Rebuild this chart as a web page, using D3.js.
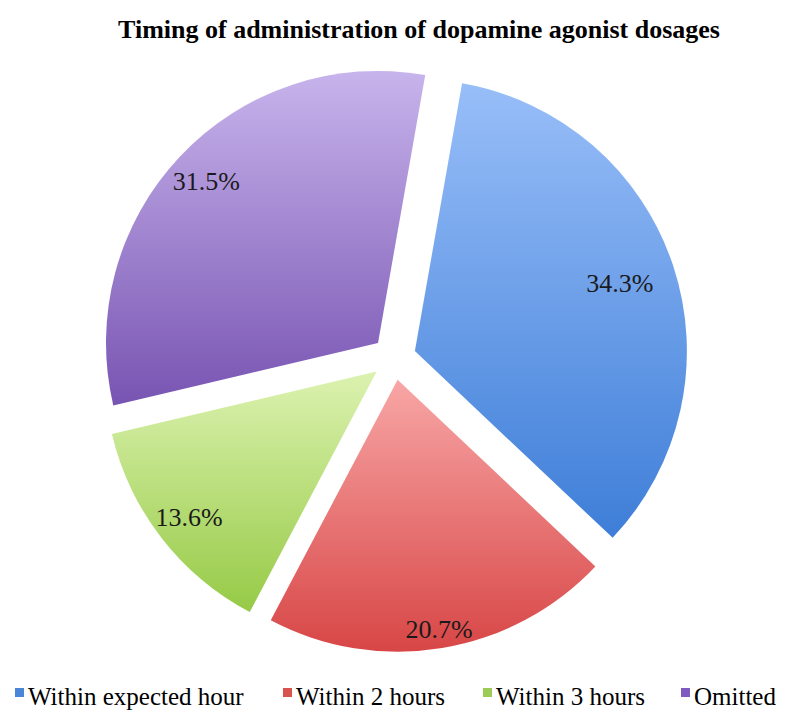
<!DOCTYPE html>
<html>
<head>
<meta charset="utf-8">
<script src="https://cdn.jsdelivr.net/npm/d3@7"></script>
<style>
  html, body { margin: 0; padding: 0; background: #fff; }
  svg { display: block; }
  text { font-family: 'Liberation Serif', 'Times New Roman', 'DejaVu Serif', serif; }
</style>
</head>
<body>
<svg id="chart" width="800" height="725"></svg>
<script>
const title = "Timing of administration of dopamine agonist dosages";
const categories = ["Within expected hour", "Within 2 hours", "Within 3 hours", "Omitted"];
const values = [34.3, 20.7, 13.6, 31.5];
const labels = ["34.3%", "20.7%", "13.6%", "31.5%"];
const colorsTop = ["#98bef8", "#f8a6a6", "#dcf2b0", "#c8b4ec"];
const colorsBottom = ["#3e7ed8", "#d84646", "#96ca46", "#7854b2"];
const legendColors = ["#4a86d8", "#d9534f", "#9ccc55", "#7f5bbf"];

const svg = d3.select("#chart");
const cx = 394, cy = 358, R = 272, explode = 22;
const labelR = [216, 253, 237, 236];

const defs = svg.append("defs");
values.forEach((v, i) => {
  const g = defs.append("linearGradient")
    .attr("id", "grad" + i)
    .attr("x1", 0).attr("y1", 0).attr("x2", 0).attr("y2", 1);
  g.append("stop").attr("offset", "0%").attr("stop-color", colorsTop[i]);
  g.append("stop").attr("offset", "100%").attr("stop-color", colorsBottom[i]);
});

svg.append("text")
  .attr("x", 419).attr("y", 38)
  .attr("text-anchor", "middle")
  .attr("font-weight", "bold")
  .attr("font-size", 26)
  .attr("fill", "#000")
  .text(title);

const start = 10 * Math.PI / 180;
const pie = d3.pie().sort(null).value(d => d)
  .startAngle(start).endAngle(start + 2 * Math.PI);
const arcs = pie(values);
const arc = d3.arc().innerRadius(0).outerRadius(R);

const g = svg.append("g").attr("transform", `translate(${cx},${cy})`);
arcs.forEach((a, i) => {
  const mid = (a.startAngle + a.endAngle) / 2;
  const ox = explode * Math.sin(mid), oy = -explode * Math.cos(mid);
  const sg = g.append("g").attr("transform", `translate(${ox},${oy})`);
  sg.append("path")
    .attr("d", arc(a))
    .attr("fill", `url(#grad${i})`);
  sg.append("text")
    .attr("x", labelR[i] * Math.sin(mid))
    .attr("y", -labelR[i] * Math.cos(mid))
    .attr("dy", "0.35em")
    .attr("text-anchor", "middle")
    .attr("font-size", 26)
    .attr("fill", "#1a1a1a")
    .text(labels[i]);
});

const legendX = [15, 283, 483, 681];
const leg = svg.append("g");
categories.forEach((c, i) => {
  leg.append("rect")
    .attr("x", legendX[i]).attr("y", 688)
    .attr("width", 9).attr("height", 9)
    .attr("fill", legendColors[i]);
  leg.append("text")
    .attr("x", legendX[i] + 13).attr("y", 705)
    .attr("font-size", 25)
    .attr("fill", "#000")
    .text(c);
});
</script>
</body>
</html>
